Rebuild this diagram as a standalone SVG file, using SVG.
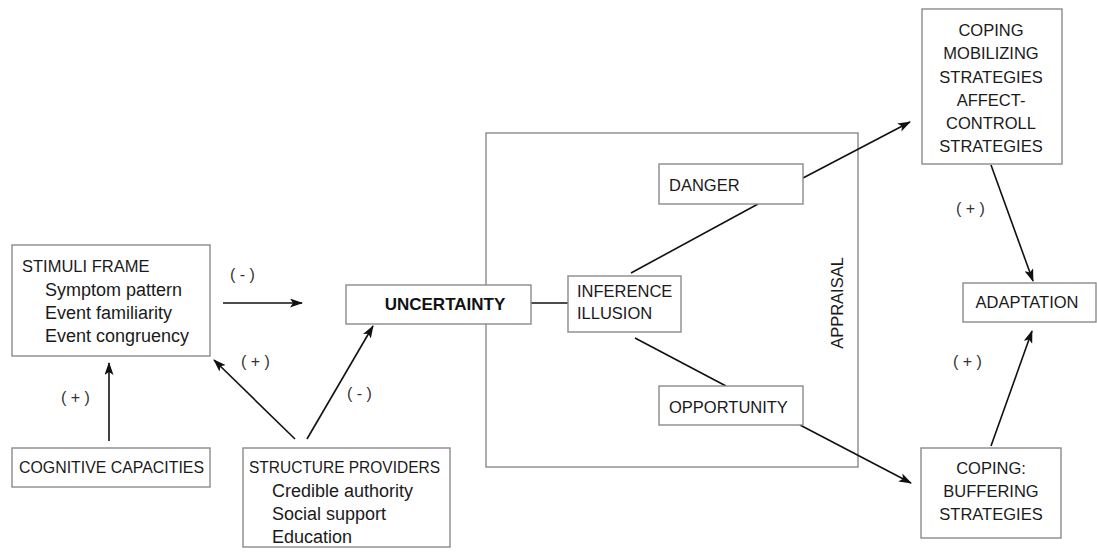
<svg xmlns="http://www.w3.org/2000/svg" width="1097" height="557" viewBox="0 0 1097 557">
<defs>
<marker id="ah" markerWidth="13" markerHeight="9" refX="12" refY="4.5" orient="auto" markerUnits="userSpaceOnUse">
<path d="M0,0 L13,4.5 L0,9 L3,4.5 Z" fill="#111"/>
</marker>
<style>
.box{fill:#fff;stroke:#8a8a8a;stroke-width:1.4}
.frame{fill:none;stroke:#8a8a8a;stroke-width:1.4}
.t{font-family:"Liberation Sans",Arial,sans-serif;font-size:16.5px;fill:#1a1a1a}
.l{font-family:"Liberation Sans",Arial,sans-serif;font-size:18px;fill:#1a1a1a}
.b{font-family:"Liberation Sans",Arial,sans-serif;font-size:17px;font-weight:bold;fill:#111}
.s{font-family:"Liberation Sans",Arial,sans-serif;font-size:16px;fill:#333}
.c{stroke:#111;stroke-width:1.6;fill:none}
.a{stroke:#111;stroke-width:1.6;fill:none;marker-end:url(#ah)}
</style>
</defs>
<rect width="1097" height="557" fill="#fff"/>
<g id="appraisal">
<rect class="frame" x="486" y="133" width="372" height="334"/>
<text class="t" transform="translate(843,303) rotate(-90)" text-anchor="middle">APPRAISAL</text>
</g>
<g id="connectors">
<line class="a" x1="223" y1="303" x2="302" y2="303"/>
<line class="a" x1="109" y1="441" x2="109" y2="363"/>
<line class="a" x1="295" y1="439" x2="214" y2="360"/>
<line class="a" x1="307" y1="439" x2="373" y2="326"/>
<line class="c" x1="531" y1="303" x2="568" y2="303"/>
<line class="c" x1="631" y1="273" x2="758" y2="204"/>
<line class="c" x1="635" y1="338" x2="726" y2="386"/>
<line class="a" x1="803" y1="178" x2="910" y2="122"/>
<line class="a" x1="800" y1="425" x2="911" y2="483"/>
<line class="a" x1="991" y1="165" x2="1033" y2="281"/>
<line class="a" x1="991" y1="446" x2="1032" y2="331"/>
<text class="s" x="230" y="280">( - )</text>
<text class="s" x="241" y="367">( + )</text>
<text class="s" x="61" y="403">( + )</text>
<text class="s" x="347" y="399">( - )</text>
<text class="s" x="956" y="214">( + )</text>
<text class="s" x="953" y="367">( + )</text>
</g>
<g id="stimuli">
<rect class="box" x="12" y="245" width="198" height="111"/>
<text class="t" x="22" y="272">STIMULI FRAME</text>
<text class="l" x="45" y="296">Symptom pattern</text>
<text class="l" x="45" y="319">Event familiarity</text>
<text class="l" x="45" y="342">Event congruency</text>
</g>
<g id="cognitive">
<rect class="box" x="12" y="448" width="198" height="39"/>
<text class="t" x="19" y="473" textLength="185" lengthAdjust="spacingAndGlyphs">COGNITIVE CAPACITIES</text>
</g>
<g id="structure">
<rect class="box" x="243" y="448" width="207" height="99"/>
<text class="t" x="249" y="473" textLength="191" lengthAdjust="spacingAndGlyphs">STRUCTURE PROVIDERS</text>
<text class="l" x="272" y="497">Credible authority</text>
<text class="l" x="272" y="520">Social support</text>
<text class="l" x="272" y="543">Education</text>
</g>
<g id="uncertainty">
<rect class="box" x="346" y="285" width="185" height="39"/>
<text class="b" x="445" y="310" text-anchor="middle">UNCERTAINTY</text>
</g>
<g id="inference">
<rect class="box" x="568" y="276" width="113" height="56"/>
<text class="t" x="577" y="297">INFERENCE</text>
<text class="t" x="577" y="319">ILLUSION</text>
</g>
<g id="danger">
<rect class="box" x="659" y="164" width="144" height="40"/>
<text class="t" x="669" y="191">DANGER</text>
</g>
<g id="opportunity">
<rect class="box" x="659" y="386" width="144" height="39"/>
<text class="t" x="669" y="413">OPPORTUNITY</text>
</g>
<g id="coping-mobilizing">
<rect class="box" x="922" y="9" width="140" height="155"/>
<text class="t" x="991" y="36" text-anchor="middle">COPING</text>
<text class="t" x="991" y="59" text-anchor="middle">MOBILIZING</text>
<text class="t" x="991" y="83" text-anchor="middle">STRATEGIES</text>
<text class="t" x="991" y="106" text-anchor="middle">AFFECT-</text>
<text class="t" x="991" y="129" text-anchor="middle">CONTROLL</text>
<text class="t" x="991" y="152" text-anchor="middle">STRATEGIES</text>
</g>
<g id="adaptation">
<rect class="box" x="963" y="283" width="133" height="39"/>
<text class="t" x="1027" y="308" text-anchor="middle">ADAPTATION</text>
</g>
<g id="coping-buffering">
<rect class="box" x="921" y="448" width="140" height="90"/>
<text class="t" x="991" y="474" text-anchor="middle">COPING:</text>
<text class="t" x="991" y="497" text-anchor="middle">BUFFERING</text>
<text class="t" x="991" y="520" text-anchor="middle">STRATEGIES</text>
</g>
</svg>
